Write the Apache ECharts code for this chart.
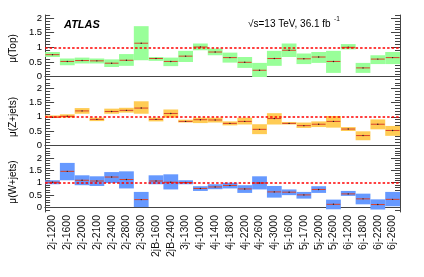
<!DOCTYPE html>
<html>
<head>
<meta charset="utf-8">
<script src="https://cdn.jsdelivr.net/npm/echarts@6/dist/echarts.min.js"></script>
<style>html,body{margin:0;padding:0;background:#fff}#c{width:424px;height:277px}</style>
</head>
<body>
<div id="c"></div>
<script>
const categories = ['2j-1200','2j-1600','2j-2000','2j-2100','2j-2400','2j-2800','2j-3600','2jB-1600','2jB-2400','3j-1300','4j-1000','4j-1400','4j-1800','4j-2200','4j-2600','4j-3000','5j-1600','5j-1700','5j-2000','5j-2600','6j-1200','6j-1800','6j-2200','6j-2600'];

const topMu = [0.75,0.52,0.55,0.54,0.46,0.56,1.14,0.62,0.52,0.70,1.01,0.84,0.65,0.49,0.22,0.62,0.90,0.61,0.67,0.52,1.00,0.30,0.60,0.65];
const topLo = [0.67,0.39,0.45,0.45,0.33,0.37,0.56,0.54,0.36,0.50,0.90,0.73,0.48,0.30,-0.01,0.37,0.67,0.43,0.47,0.13,0.93,0.13,0.43,0.43];
const topHi = [0.84,0.62,0.65,0.62,0.59,0.77,1.72,0.67,0.65,0.88,1.13,0.96,0.82,0.67,0.47,0.88,1.13,0.79,0.84,0.88,1.11,0.47,0.73,0.84];

const zMu = [0.99,1.02,1.21,0.91,1.19,1.23,1.31,0.91,1.12,0.84,0.90,0.89,0.77,0.84,0.56,0.94,0.77,0.69,0.74,0.84,0.57,0.34,0.74,0.52];
const zLo = [0.96,0.97,1.11,0.85,1.11,1.15,1.11,0.84,0.97,0.80,0.78,0.80,0.70,0.73,0.39,0.73,0.73,0.61,0.64,0.62,0.50,0.175,0.56,0.33];
const zHi = [1.05,1.09,1.31,0.97,1.29,1.32,1.55,0.97,1.26,0.90,0.97,0.97,0.84,0.97,0.74,1.13,0.82,0.80,0.84,1.03,0.64,0.49,0.91,0.68];

const wMu = [1.02,1.46,1.10,1.07,1.23,1.13,0.32,1.07,1.02,1.01,0.77,0.83,0.89,0.75,0.99,0.63,0.62,0.51,0.73,0.13,0.55,0.35,0.12,0.33];
const wLo = [0.94,1.10,0.90,0.87,0.99,0.77,0.02,0.94,0.73,0.94,0.67,0.74,0.77,0.59,0.73,0.40,0.50,0.36,0.59,-0.07,0.47,0.13,-0.08,0.05];
const wHi = [1.10,1.80,1.30,1.26,1.43,1.46,0.63,1.30,1.34,1.10,0.86,0.94,1.00,0.90,1.26,0.87,0.73,0.63,0.86,0.32,0.67,0.56,0.33,0.63];

const yMajorTicks = [0, 0.5, 1, 1.5, 2];
const yMinorTicks = [-0.2,-0.1,0.1,0.2,0.3,0.4,0.6,0.7,0.8,0.9,1.1,1.2,1.3,1.4,1.6,1.7,1.8,1.9,2.1,2.2];
const panelNames = ['\u03bc(Top)', '\u03bc(Z+jets)', '\u03bc(W+jets)'];

const FONT = '"Liberation Sans", Arial, Helvetica, sans-serif';
const panels = [
  {name: panelNames[0], mu: topMu, lo: topLo, hi: topHi, color: '#99ff99', min: -0.18, max: 2.1, top: 15, height: 67},
  {name: panelNames[1], mu: zMu, lo: zLo, hi: zHi, color: '#ffcc55', min: -0.24, max: 2.23, top: 82, height: 70},
  {name: panelNames[2], mu: wMu, lo: wLo, hi: wHi, color: '#6699ff', min: -0.18, max: 2.24, top: 152, height: 60}
];
const lineCol = '#444';

const grid = [], xAxis = [], yAxis = [], series = [];
panels.forEach((p, k) => {
  grid.push({left: 43, right: 24, top: p.top, height: p.height});
  const inRange = v => v >= p.min && v <= p.max;
  xAxis.push({
    type: 'category', gridIndex: k, data: categories, position: 'bottom', boundaryGap: true,
    axisLine: {lineStyle: {color: lineCol, width: 1}},
    axisTick: {inside: true, length: 3, interval: 0, lineStyle: {color: lineCol}},
    axisLabel: {show: k === 2, rotate: 90, interval: 0, fontSize: 10.5, margin: 3, color: '#111', fontFamily: FONT},
    splitLine: {show: false}
  });
  xAxis.push({
    type: 'category', gridIndex: k, data: categories, position: 'top', boundaryGap: true,
    axisLine: {lineStyle: {color: lineCol, width: 1}},
    axisTick: {inside: true, length: 3, interval: 0, lineStyle: {color: lineCol}},
    axisLabel: {show: false}, splitLine: {show: false}
  });
  const major = yMajorTicks.filter(inRange), minor = yMinorTicks.filter(inRange);
  const base = {type: 'value', gridIndex: k, min: p.min, max: p.max, splitLine: {show: false}};
  yAxis.push(Object.assign({}, base, {
    position: 'left', name: p.name, nameLocation: 'middle', nameGap: 20,
    nameTextStyle: {fontSize: 10, color: '#000', fontFamily: FONT},
    axisLine: {show: true, lineStyle: {color: lineCol, width: 1}},
    axisTick: {show: true, inside: true, length: 9, customValues: major, lineStyle: {color: lineCol}},
    axisLabel: {show: true, customValues: major, fontSize: 9.5, margin: 3, color: '#000', fontFamily: FONT}
  }));
  yAxis.push(Object.assign({}, base, {
    position: 'left', axisLine: {show: false},
    axisTick: {show: true, inside: true, length: 5, customValues: minor, lineStyle: {color: lineCol}},
    axisLabel: {show: false}
  }));
  yAxis.push(Object.assign({}, base, {
    position: 'right', axisLine: {show: true, lineStyle: {color: lineCol, width: 1}},
    axisTick: {show: true, inside: true, length: 9, customValues: major, lineStyle: {color: lineCol}},
    axisLabel: {show: false}
  }));
  yAxis.push(Object.assign({}, base, {
    position: 'right', axisLine: {show: false},
    axisTick: {show: true, inside: true, length: 5, customValues: minor, lineStyle: {color: lineCol}},
    axisLabel: {show: false}
  }));
  const data = categories.map((c, i) => [i, p.lo[i], p.hi[i], p.mu[i]]);
  series.push({
    type: 'custom', xAxisIndex: 2 * k, yAxisIndex: 4 * k, data: data,
    encode: {x: 0, y: [1, 2, 3]}, silent: true, animation: false,
    renderItem: function (params, api) {
      const i = api.value(0);
      const pHi = api.coord([i, api.value(2)]);
      const pLo = api.coord([i, api.value(1)]);
      const pC = api.coord([i, api.value(3)]);
      const w = api.size([1, 0])[0];
      return {type: 'group', children: [
        {type: 'rect', shape: {x: pHi[0] - w / 2, y: pHi[1], width: w, height: pLo[1] - pHi[1]}, style: {fill: p.color}},
        {type: 'line', shape: {x1: pC[0] - w / 2 + 0.5, y1: pC[1], x2: pC[0] + w / 2 - 0.5, y2: pC[1]}, style: {stroke: '#d8402a', lineWidth: 1}},
        {type: 'circle', shape: {cx: pC[0], cy: pC[1], r: 0.7}, style: {fill: '#222'}}
      ]};
    },
    markLine: {
      silent: true, symbol: 'none', animation: false, label: {show: false},
      lineStyle: {color: '#ff0000', type: [2.5, 2], width: 1.5},
      data: [{yAxis: 1}]
    }
  });
});

const chart = echarts.init(document.getElementById('c'), null, {renderer: 'canvas'});
chart.setOption({
  animation: false,
  grid: grid, xAxis: xAxis, yAxis: yAxis, series: series,
  graphic: [
    {type: 'text', left: 64, top: 19, style: {text: 'ATLAS', font: 'italic bold 11px ' + FONT, fill: '#000'}},
    {type: 'text', left: 248, top: 19, style: {text: '\u221as=13 TeV, 36.1 fb', font: '10px ' + FONT, fill: '#000'}},
    {type: 'text', left: 334, top: 16, style: {text: '-1', font: '6.5px ' + FONT, fill: '#000'}}
  ]
});
</script>
</body>
</html>
